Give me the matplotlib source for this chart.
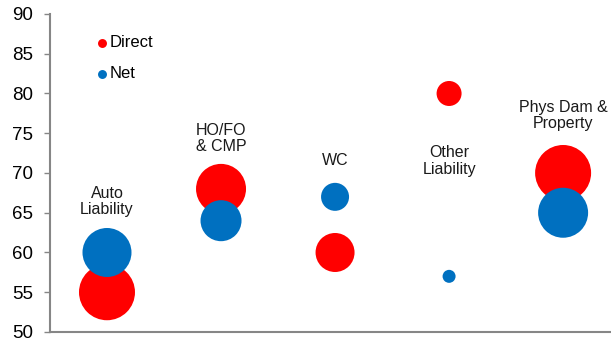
import matplotlib.pyplot as plt

# Categories and bubble values
categories = ["Auto\nLiability", "HO/FO\n& CMP", "WC", "Other\nLiability", "Phys Dam &\nProperty"]
x_pos = [1, 2, 3, 4, 5]
direct_y = [55, 68, 60, 80, 70]
net_y = [60, 64, 67, 57, 65]
# bubble size (relative area)
direct_size = [3136, 2500, 1521, 625, 3136]
net_size = [2401, 1681, 784, 169, 2500]
label_y = [66.4, 74.3, 71.6, 71.5, 77.2]
yticks = [50, 55, 60, 65, 70, 75, 80, 85, 90]


def main():
    fig = plt.figure(figsize=(6.11, 3.41), dpi=100)
    ax = fig.add_axes([0.0818, 0.0264, 0.9182, 0.9326])

    scale = 0.72 ** 2  # px^2 -> pt^2
    ax.scatter(x_pos, direct_y, s=[v * scale for v in direct_size],
               color="#FF0000", linewidths=0, zorder=2)
    ax.scatter(x_pos, net_y, s=[v * scale for v in net_size],
               color="#0070C0", linewidths=0, zorder=3)

    for x, y, lab in zip(x_pos, label_y, categories):
        ax.text(x, y, lab, ha="center", va="center", fontsize=11.5,
                color="#1a1a1a", linespacing=1.1, family="Liberation Sans")

    # legend
    ax.scatter([0.96], [86.4], s=80 * scale, color="#FF0000", linewidths=0)
    ax.scatter([0.96], [82.5], s=80 * scale, color="#0070C0", linewidths=0)
    ax.text(1.02, 86.4, "Direct", va="center", fontsize=12, family="Liberation Sans")
    ax.text(1.02, 82.5, "Net", va="center", fontsize=12, family="Liberation Sans")

    ax.set_xlim(0.5, 5.42)
    ax.set_ylim(50, 90)
    ax.set_yticks(yticks)
    ax.set_xticks([])
    for lab in ax.get_yticklabels():
        lab.set_family("Liberation Sans")
    ax.tick_params(axis="y", labelsize=13.5, color="#868686", length=4, width=1, pad=8)

    for side in ["top", "right"]:
        ax.spines[side].set_visible(False)
    for side in ["left", "bottom"]:
        ax.spines[side].set_color("#868686")
        ax.spines[side].set_linewidth(1.5)

    fig.savefig("out.png", dpi=100)
    plt.close(fig)


if __name__ == "__main__":
    main()
